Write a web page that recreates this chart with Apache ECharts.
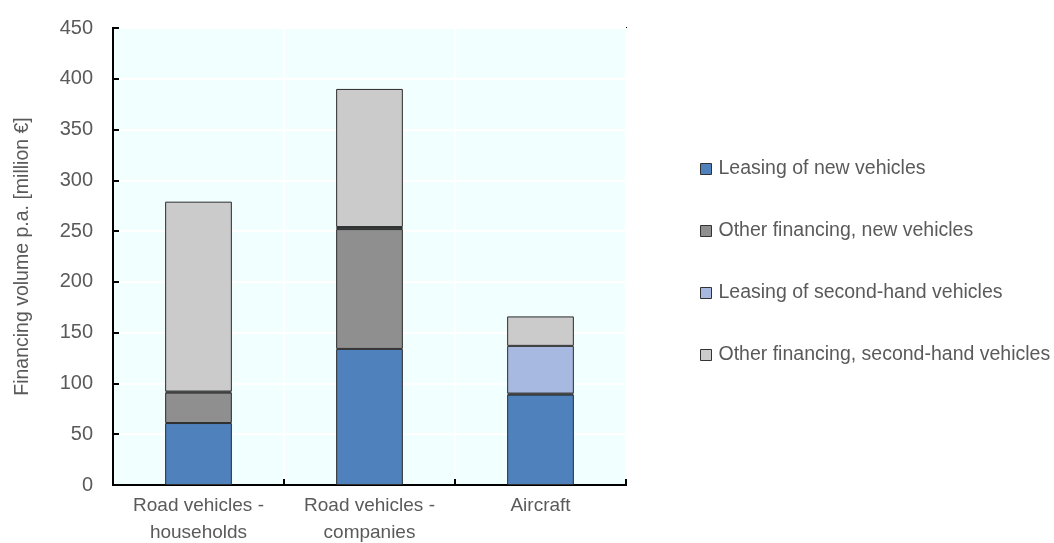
<!DOCTYPE html>
<html>
<head>
<meta charset="utf-8">
<script src="https://cdn.jsdelivr.net/npm/echarts@6/dist/echarts.min.js"></script>
<style>
  html, body { margin: 0; padding: 0; background: #ffffff; }
  #chart { width: 1054px; height: 543px; }
</style>
</head>
<body>
<div id="chart"></div>
<script>
// Financing volume per year by asset type, million €
const categories = ['Road vehicles -\nhouseholds', 'Road vehicles -\ncompanies', 'Aircraft'];
const seriesNames = [
  'Leasing of new vehicles',
  'Other financing, new vehicles',
  'Leasing of second-hand vehicles',
  'Other financing, second-hand vehicles'
];
const leasingNew = [61, 134, 89];
const otherNew = [30, 118, 1];
const leasingSecondHand = [1, 2, 47];
const otherSecondHand = [187, 136, 29];
const yTicks = { min: 0, max: 450, interval: 50 };

const colors = ['#4F81BD', '#8F8F8F', '#A7B9E1', '#CBCBCB'];
const values = [leasingNew, otherNew, leasingSecondHand, otherSecondHand];
const font = '"Liberation Sans Narrow", "Arial Narrow", "Liberation Sans", sans-serif';
const textColor = '#5A5A5A';

const chart = echarts.init(document.getElementById('chart'));
chart.setOption({
  animation: false,
  grid: {
    left: 113, right: 428, top: 28, bottom: 58,
    outerBoundsMode: 'none',
    containLabel: false,
    show: true,
    backgroundColor: '#F2FFFF',
    borderColor: '#000000',
    borderWidth: 2
  },
  legend: {
    orient: 'vertical',
    left: 695,
    top: 154,
    itemGap: 42,
    itemWidth: 11,
    itemHeight: 11,
    icon: 'rect',
    textStyle: { fontFamily: font, fontSize: 19.5, color: textColor, padding: [0, 0, 0, 2] },
    itemStyle: { borderColor: '#333333', borderWidth: 1 },
    data: seriesNames
  },
  xAxis: {
    type: 'category',
    data: categories,
    axisLine: { lineStyle: { color: '#000000', width: 2 } },
    axisTick: { show: true, inside: true, length: 6, lineStyle: { color: '#000000', width: 2 } },
    axisLabel: { interval: 0, hideOverlap: false, fontFamily: font, fontSize: 19, color: textColor, lineHeight: 27, margin: 7 },
    splitLine: { show: true, lineStyle: { color: '#FFFFFF', width: 2 } }
  },
  yAxis: {
    type: 'value',
    min: yTicks.min, max: yTicks.max, interval: yTicks.interval,
    name: 'Financing volume p.a. [million €]',
    nameLocation: 'middle',
    nameGap: 80,
    nameRotate: 90,
    nameTextStyle: { fontFamily: font, fontSize: 19.5, color: textColor },
    axisLine: { show: true, lineStyle: { color: '#000000', width: 2 } },
    axisTick: { show: true, inside: true, length: 6, lineStyle: { color: '#000000', width: 2 } },
    axisLabel: { fontFamily: font, fontSize: 20, color: textColor, margin: 20 },
    splitLine: { show: true, lineStyle: { color: '#FFFFFF', width: 2 } }
  },
  series: seriesNames.map((name, i) => ({
    name,
    type: 'bar',
    stack: 'total',
    barWidth: '39%',
    data: values[i],
    itemStyle: { color: colors[i], borderColor: '#2B2B2B', borderWidth: 1 }
  }))
});
</script>
</body>
</html>
